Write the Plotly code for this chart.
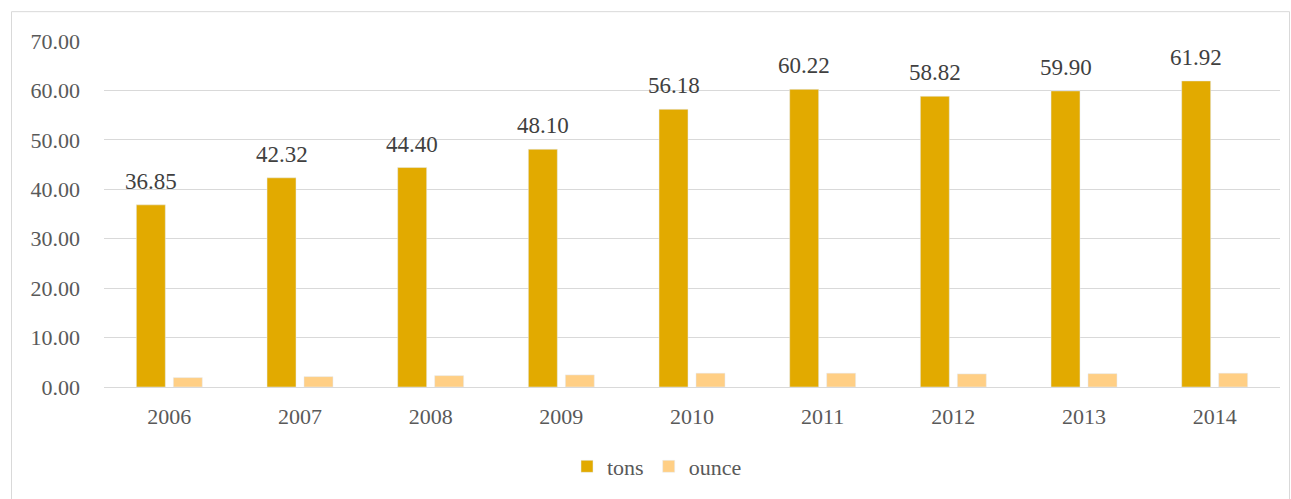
import plotly.graph_objects as go

years = ["2006", "2007", "2008", "2009", "2010", "2011", "2012", "2013", "2014"]
tons = [36.85, 42.32, 44.40, 48.10, 56.18, 60.22, 58.82, 59.90, 61.92]
ounce = [1.90, 2.10, 2.30, 2.45, 2.80, 2.80, 2.65, 2.70, 2.80]
y_ticks = [0, 10, 20, 30, 40, 50, 60, 70]

TONS_COLOR = "#E2AA00"
OUNCE_COLOR = "#FFCF85"
FONT = "Liberation Serif"

W, H = 1291, 499
ML, MR, MT, MB = 104, 11, 41, 110
PW, PH = W - ML - MR, H - MT - MB


def px_x(x):
    return (x - ML) / PW


def px_y(y):
    return (H - MB - y) / PH


fig = go.Figure()
fig.add_trace(go.Bar(
    name="tons", x=years, y=tons, marker_color=TONS_COLOR,
))
fig.add_trace(go.Bar(
    name="ounce", x=years, y=ounce, marker_color=OUNCE_COLOR,
))

# value labels above the tons bars; on a category axis the annotation x is
# the category index, shifted onto the left bar of each group
for i, v in enumerate(tons):
    fig.add_annotation(
        x=i, y=v, xref="x", yref="y", text=f"{v:.2f}",
        showarrow=False, xanchor="center", yanchor="bottom",
        xshift=-18.5, yshift=9,
        font=dict(family=FONT, size=23, color="#404040"),
    )

fig.update_layout(
    width=W, height=H,
    margin=dict(l=ML, r=MR, t=MT, b=MB),
    paper_bgcolor="white", plot_bgcolor="white",
    barmode="group", bargap=0.434, bargroupgap=0.216,
    font=dict(family=FONT, size=22, color="#595959"),
    showlegend=True,
    legend=dict(
        orientation="h", x=px_x(657), xanchor="center",
        y=px_y(469), yanchor="middle",
        font=dict(family=FONT, size=22, color="#595959"),
        itemwidth=30, bgcolor="rgba(0,0,0,0)",
    ),
    xaxis=dict(
        type="category", categoryorder="array", categoryarray=years,
        range=[-0.5, len(years) - 0.5],
        showgrid=False, showline=True, linecolor="#d9d9d9", linewidth=1,
        ticks="", ticklabelstandoff=10,
        tickfont=dict(family=FONT, size=22, color="#595959"),
    ),
    yaxis=dict(
        range=[0, 70], tickvals=y_ticks, tickformat=".2f",
        showgrid=True, gridcolor="#d9d9d9", gridwidth=1,
        zeroline=False, showline=False, ticks="", ticklabelstandoff=23,
        tickfont=dict(family=FONT, size=22, color="#595959"),
    ),
    shapes=[dict(
        type="rect", xref="paper", yref="paper",
        x0=px_x(11.5), x1=px_x(1289.5), y0=px_y(504), y1=px_y(11.5),
        line=dict(color="#d9d9d9", width=1), fillcolor="rgba(0,0,0,0)",
        layer="below",
    )],
)

fig.write_html("out.html")
